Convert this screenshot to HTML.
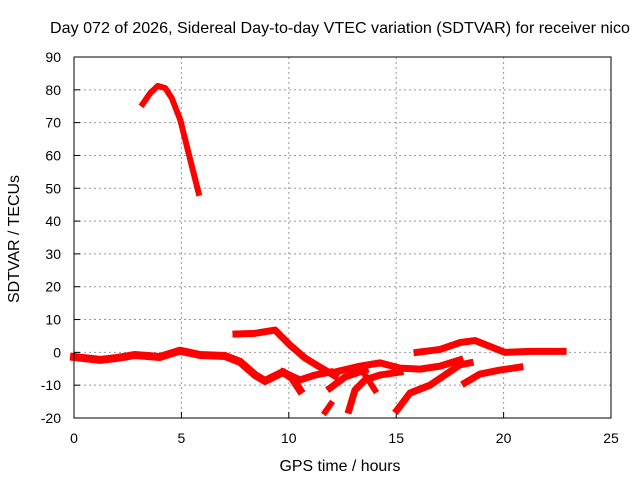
<!DOCTYPE html>
<html><head><meta charset="utf-8"><style>
body{margin:0;background:#fff}
text{font-family:"Liberation Sans",sans-serif;font-size:14px;fill:#000}
.big{font-size:16px}
</style></head><body>
<svg id="c" width="640" height="480">
<text class="big" x="340" y="33" text-anchor="middle" textLength="580" lengthAdjust="spacingAndGlyphs">Day 072 of 2026, Sidereal Day-to-day VTEC variation (SDTVAR) for receiver nico</text>
<text class="big" x="340" y="471" text-anchor="middle" textLength="121" lengthAdjust="spacingAndGlyphs">GPS time / hours</text>
<text class="big" transform="translate(19,239) rotate(-90)" text-anchor="middle" textLength="128" lengthAdjust="spacingAndGlyphs">SDTVAR / TECUs</text>
<g id="grid"></g><g id="ticks"></g><g id="series"></g>
<rect x="74" y="57" width="537" height="361" fill="none" stroke="#000"/>
</svg>
<script>
const xTicks=[0,5,10,15,20,25];
const yTicks=[-20,-10,0,10,20,30,40,50,60,70,80,90];
const hA=[3.2,3.55,3.9,4.25,4.55,4.95,5.3,5.8];
const vA=[75.7,79,81.2,80.5,77.5,70.8,61.6,48.6];
const hB=[0,1.21,2.0,2.84,4.0,4.93,5.87,7.03,7.73,8.43,8.89,9.36,9.73,10.15,10.52];
const vB=[-1.4,-2.3,-1.7,-0.8,-1.4,0.5,-0.8,-1.1,-2.9,-6.9,-8.7,-7.2,-6.0,-7.8,-11.5];
const hB2=[9.73,10.52,11.22,11.92];
const vB2=[-6,-8.4,-6.9,-6.0];
const hC=[7.54,8.43,9.36,10.06,10.75,11.45,12.15];
const vC=[5.6,5.8,6.8,2.2,-1.7,-4.5,-7.2];
const hD=[12.15,13.31,14.25,15.18,16.11,17.04,17.97];
const vD=[-6.0,-4.2,-3.2,-4.8,-5.1,-4.2,-2.3];
const hE=[15.97,17.04,17.97,18.67,19.37,20.07,21.23,22.77];
const vE=[0,0.9,3.0,3.6,1.8,0,0.3,0.3];
const hF=[18.2,18.9,19.83,20.76];
const vF=[-9.3,-6.6,-5.4,-4.5];
const hG=[15.04,15.64,16.57,17.27,17.97,18.44];
const vG=[-17.6,-12.4,-10,-6.9,-3.8,-3.2];
const hH=[12.8,13.08,13.55,14.25,15.18];
const vH=[-17.6,-11.5,-8.4,-6.9,-6.0];
const hI=[11.92,12.62,13.55];
const vI=[-10.9,-7.5,-5.4];
const hJ=[11.69,11.96];
const vJ=[-18.2,-15.7];
const hK=[13.55,14.01];
const vK=[-6.9,-11.5];
const X=h=>74+h*537/25, Y=v=>57+(90-v)*361/110;
const NS='http://www.w3.org/2000/svg';
const g=document.getElementById('grid'),t=document.getElementById('ticks'),s=document.getElementById('series');
function mk(tag,a,p){const e=document.createElementNS(NS,tag);for(const k in a)e.setAttribute(k,a[k]);p.appendChild(e);return e;}
xTicks.forEach(v=>{
 if(v>0&&v<25){const l=mk('line',{x1:X(v),x2:X(v),y1:57,y2:418,stroke:'#999','stroke-dasharray':'2,3'},g);
 
 }
 mk('line',{x1:X(v),x2:X(v),y1:418,y2:412,stroke:'#000'},t);
 const tx=mk('text',{x:X(v),y:443,'text-anchor':'middle'},t);tx.textContent=v;
 
 
});
yTicks.forEach(v=>{
 if(v>-20&&v<90){const l=mk('line',{x1:74,x2:611,y1:Y(v),y2:Y(v),stroke:'#999','stroke-dasharray':'2,3'},g);
 
 }
 mk('line',{x1:74,x2:80,y1:Y(v),y2:Y(v),stroke:'#000'},t);
 const tx=mk('text',{x:61,y:Y(v)+5,'text-anchor':'end'},t);tx.textContent=v;
 
 
});
const sets=[[hA,vA,6],[hB,vB,8],[hB2,vB2,7],[hC,vC,7],[hD,vD,7],[hE,vE,7],[hF,vF,7],[hG,vG,7],[hH,vH,7],[hI,vI,7],[hJ,vJ,6],[hK,vK,6]];
sets.forEach(([hs,vs,w])=>{
 const p=mk('polyline',{points:hs.map((h,i)=>X(h)+','+Y(vs[i])).join(' '),fill:'none',stroke:'#f00','stroke-width':w,'stroke-linejoin':'round','stroke-linecap':'square'},s);
 
 
});
</script>
</body></html>
